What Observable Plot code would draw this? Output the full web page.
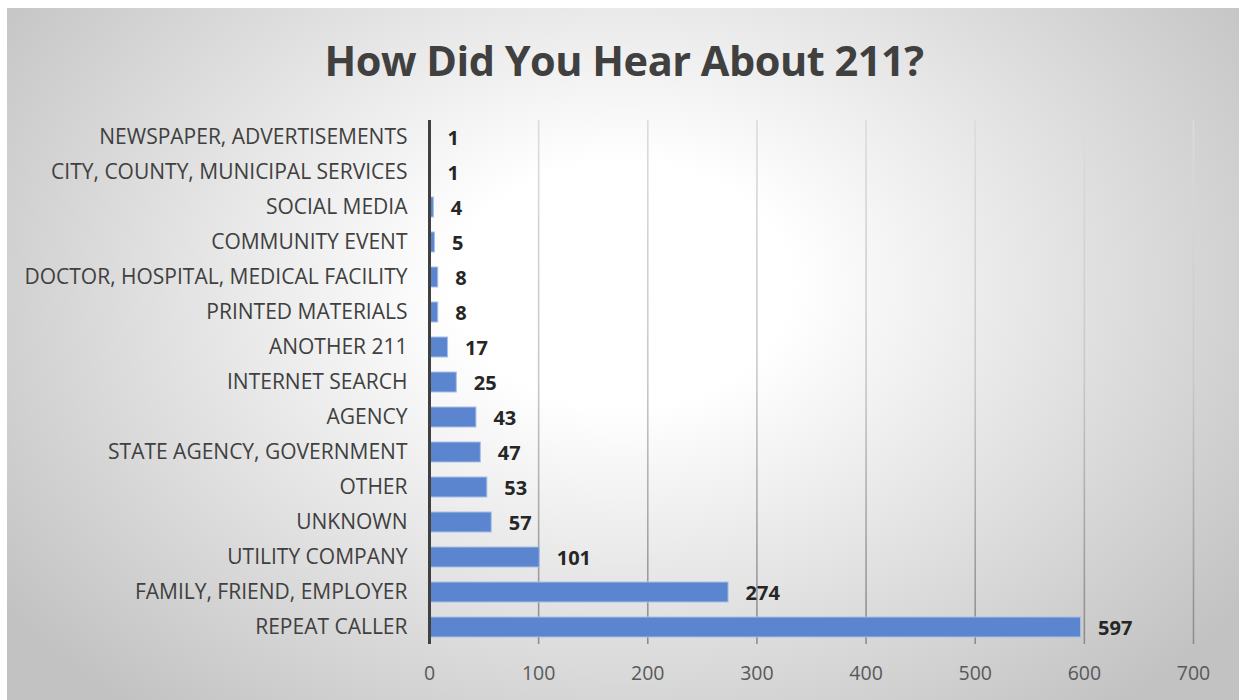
<!DOCTYPE html>
<html>
<head>
<meta charset="utf-8">
<script src="https://cdn.jsdelivr.net/npm/d3@7"></script>
<script src="https://cdn.jsdelivr.net/npm/@observablehq/plot@0.6"></script>
<style>
  html, body { margin: 0; padding: 0; background: #fff; }
  #page { position: relative; width: 1239px; height: 700px; overflow: hidden; background: #fff; }
  #bg { position: absolute; left: 7px; top: 8px; width: 1232px; height: 692px;
        background: radial-gradient(ellipse 62% 80% at 50% 40%, #ffffff 0%, #ffffff 22%, #c2c2c2 100%); }
  #title { position: absolute; left: 0; top: 30px; width: 1248px; text-align: center;
           font-family: "Open Sans", sans-serif; font-weight: 700; font-size: 41.5px; color: #404040;
           line-height: 60px; letter-spacing: -0.5px; }
  #chart { position: absolute; left: 0; top: 100px; }
</style>
</head>
<body>
<div id="page">
  <div id="bg"></div>
  <div id="title">How Did You Hear About 211?</div>
  <div id="chart"></div>
</div>
<script>
const categories = [
  "NEWSPAPER, ADVERTISEMENTS",
  "CITY, COUNTY, MUNICIPAL SERVICES",
  "SOCIAL MEDIA",
  "COMMUNITY EVENT",
  "DOCTOR, HOSPITAL, MEDICAL FACILITY",
  "PRINTED MATERIALS",
  "ANOTHER 211",
  "INTERNET SEARCH",
  "AGENCY",
  "STATE AGENCY, GOVERNMENT",
  "OTHER",
  "UNKNOWN",
  "UTILITY COMPANY",
  "FAMILY, FRIEND, EMPLOYER",
  "REPEAT CALLER"
];
const counts = [1, 1, 4, 5, 8, 8, 17, 25, 43, 47, 53, 57, 101, 274, 597];
const xTicks = [0, 100, 200, 300, 400, 500, 600, 700];

const data = categories.map((c, i) => ({category: c, count: counts[i]}));

const plot = Plot.plot({
  width: 1239,
  height: 600,
  marginLeft: 429,
  marginRight: 46,
  marginTop: 20,
  marginBottom: 56,
  style: {background: "transparent", fontFamily: "'Open Sans', sans-serif", overflow: "visible"},
  x: {domain: [0, 700], ticks: xTicks, label: null, tickSize: 0, tickPadding: 22},
  y: {domain: categories, label: null, tickSize: 0, tickPadding: 22, paddingInner: 0.43, paddingOuter: 0.2},
  marks: [
    Plot.ruleX(xTicks.filter(d => d > 0), {stroke: "url(#gridGrad)", strokeWidth: 1.6}),
    Plot.barX(data, {y: "category", x: "count", fill: "#5b85cf", stroke: "#a9bfe6", strokeWidth: 1}),
    Plot.ruleX([0], {stroke: "#404040", strokeWidth: 3}),
    Plot.text(data, {y: "category", x: "count", text: d => String(d.count), dx: 17, dy: 1, textAnchor: "start",
      fontWeight: "bold", fontSize: 20, fill: "#262626"}),
    Plot.axisX({ticks: xTicks, tickSize: 0, tickPadding: 22, fontSize: 19.5, color: "#595959", label: null}),
    Plot.axisY({tickSize: 0, tickPadding: 22, fontSize: 21, color: "#404040", label: null})
  ]
});

// gradient for grid lines (light at top, darker at bottom)
const ns = "http://www.w3.org/2000/svg";
const defs = document.createElementNS(ns, "defs");
const lg = document.createElementNS(ns, "linearGradient");
lg.setAttribute("id", "gridGrad");
lg.setAttribute("gradientUnits", "userSpaceOnUse");
lg.setAttribute("x1", "0"); lg.setAttribute("y1", "20");
lg.setAttribute("x2", "0"); lg.setAttribute("y2", "544");
[["0", "#dcdcdc"], ["0.5", "#c8c8c8"], ["1", "#8c8c8c"]].forEach(([o, c]) => {
  const s = document.createElementNS(ns, "stop");
  s.setAttribute("offset", o); s.setAttribute("stop-color", c);
  lg.appendChild(s);
});
defs.appendChild(lg);
plot.insertBefore(defs, plot.firstChild);

document.getElementById("chart").appendChild(plot);
</script>
</body>
</html>
